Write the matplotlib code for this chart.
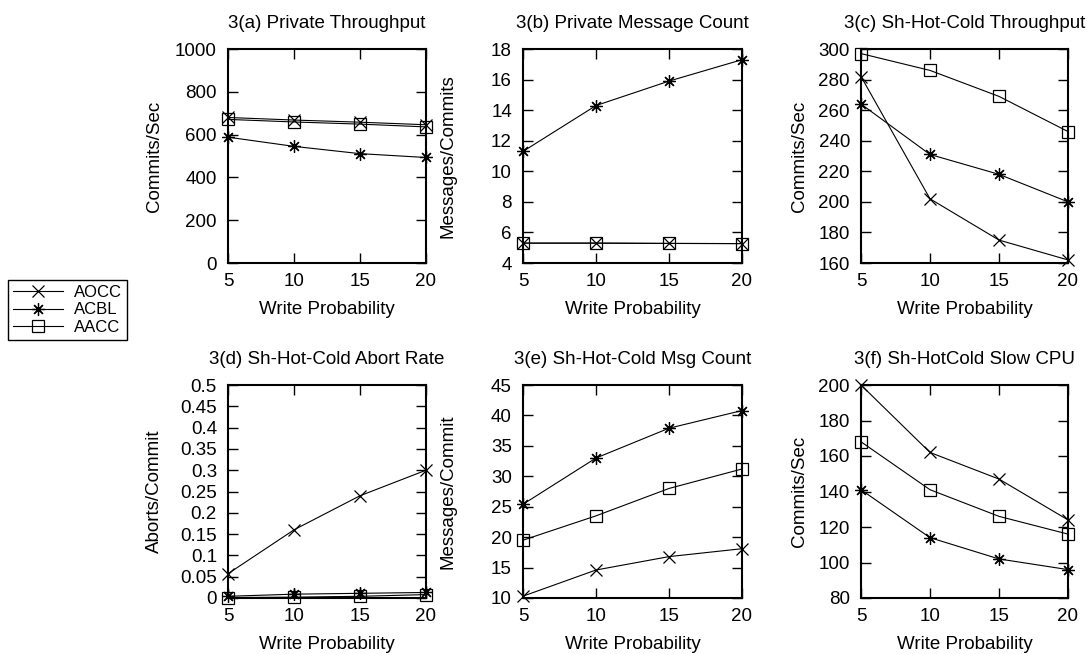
import matplotlib
matplotlib.use('Agg')
import matplotlib.pyplot as plt

plt.rcParams['font.family'] = ['Liberation Sans', 'DejaVu Sans']
plt.rcParams['font.size'] = 13.5

write_prob = [5, 10, 15, 20]

# 3(a) Private Throughput
a_aocc = [680, 668, 658, 646]
a_acbl = [588, 545, 511, 493]
a_aacc = [671, 659, 649, 636]

# 3(b) Private Message Count
b_aocc = [5.3, 5.3, 5.28, 5.27]
b_acbl = [11.3, 14.3, 15.9, 17.3]
b_aacc = [5.3, 5.3, 5.28, 5.27]

# 3(c) Sh-Hot-Cold Throughput
c_aocc = [282, 202, 175, 162]
c_acbl = [264, 231, 218, 200]
c_aacc = [297, 286, 269, 246]

# 3(d) Sh-Hot-Cold Abort Rate
d_aocc = [0.057, 0.160, 0.240, 0.300]
d_acbl = [0.004, 0.009, 0.011, 0.013]
d_aacc = [0.001, 0.002, 0.004, 0.008]

# 3(e) Sh-Hot-Cold Msg Count
e_aocc = [10.3, 14.6, 16.8, 18.1]
e_acbl = [25.4, 33.0, 37.9, 40.8]
e_aacc = [19.5, 23.5, 28.0, 31.2]

# 3(f) Sh-HotCold Slow CPU
f_aocc = [200, 162, 147, 124]
f_acbl = [141, 114, 102, 96]
f_aacc = [168, 141, 126, 116]

W, H = 1087, 654

panels = [
    # title, ylabel, series, ylim, yticks, (left, right, top, bottom) px, ylabel x px
    ('3(a) Private Throughput', 'Commits/Sec', (a_aocc, a_acbl, a_aacc),
     (0, 1000), [0, 200, 400, 600, 800, 1000], (228, 426, 49, 263), 163),
    ('3(b) Private Message Count', 'Messages/Commits', (b_aocc, b_acbl, b_aacc),
     (4, 18), [4, 6, 8, 10, 12, 14, 16, 18], (523, 742, 49, 263), 457),
    ('3(c) Sh-Hot-Cold Throughput', 'Commits/Sec', (c_aocc, c_acbl, c_aacc),
     (160, 300), [160, 180, 200, 220, 240, 260, 280, 300], (861, 1068, 49, 263), 808),
    ('3(d) Sh-Hot-Cold Abort Rate', 'Aborts/Commit', (d_aocc, d_acbl, d_aacc),
     (0, 0.5), [0, 0.05, 0.1, 0.15, 0.2, 0.25, 0.3, 0.35, 0.4, 0.45, 0.5],
     (228, 426, 385, 598), 163),
    ('3(e) Sh-Hot-Cold Msg Count', 'Messages/Commit', (e_aocc, e_acbl, e_aacc),
     (10, 45), [10, 15, 20, 25, 30, 35, 40, 45], (523, 742, 385, 598), 457),
    ('3(f) Sh-HotCold Slow CPU', 'Commits/Sec', (f_aocc, f_acbl, f_aacc),
     (80, 200), [80, 100, 120, 140, 160, 180, 200], (861, 1068, 385, 598), 808),
]

names = ['AOCC', 'ACBL', 'AACC']
markers = ['x', (8, 2, 0), 's']
msizes = [9, 9, 8]

fig = plt.figure(figsize=(W / 100, H / 100), dpi=100)

handles = []
for title, ylab, series, ylim, yticks, (l, r, t, b), ylx in panels:
    ax = fig.add_axes([l / W, 1 - b / H, (r - l) / W, (b - t) / H])
    handles = []
    for vals, name, m, ms in zip(series, names, markers, msizes):
        h, = ax.plot(write_prob, vals, color='black', lw=0.8, marker=m,
                     markersize=ms, markerfacecolor='none', markeredgecolor='black',
                     markeredgewidth=0.9, label=name, clip_on=False)
        handles.append(h)
    ax.set_xlim(5, 20)
    ax.set_ylim(*ylim)
    ax.set_xticks(write_prob)
    ax.set_yticks(yticks)
    ax.set_yticklabels([('%g' % v) for v in yticks])
    ax.tick_params(direction='in', length=7, width=1, top=True, right=True,
                   labelsize=13.5)
    ax.tick_params(axis='y', pad=8)
    ax.tick_params(axis='x', pad=7)
    for s in ax.spines.values():
        s.set_linewidth(1.5)
    ax.set_title(title, fontsize=13.5, pad=15)
    ax.set_xlabel('Write Probability', fontsize=13.5, labelpad=8)
    ax.set_ylabel(ylab, fontsize=13.5)
    ax.yaxis.set_label_coords((ylx - l) / (r - l), 0.5)

leg = fig.legend(handles, names, loc='center',
                 bbox_to_anchor=(67.5 / W, 1 - 310 / H),
                 frameon=True, fancybox=False, edgecolor='black', framealpha=1,
                 handlelength=3.0, labelspacing=0.15, borderpad=0.3,
                 handletextpad=0.7, fontsize=12)
leg.get_frame().set_linewidth(1.0)

fig.savefig('out.png', dpi=100)
